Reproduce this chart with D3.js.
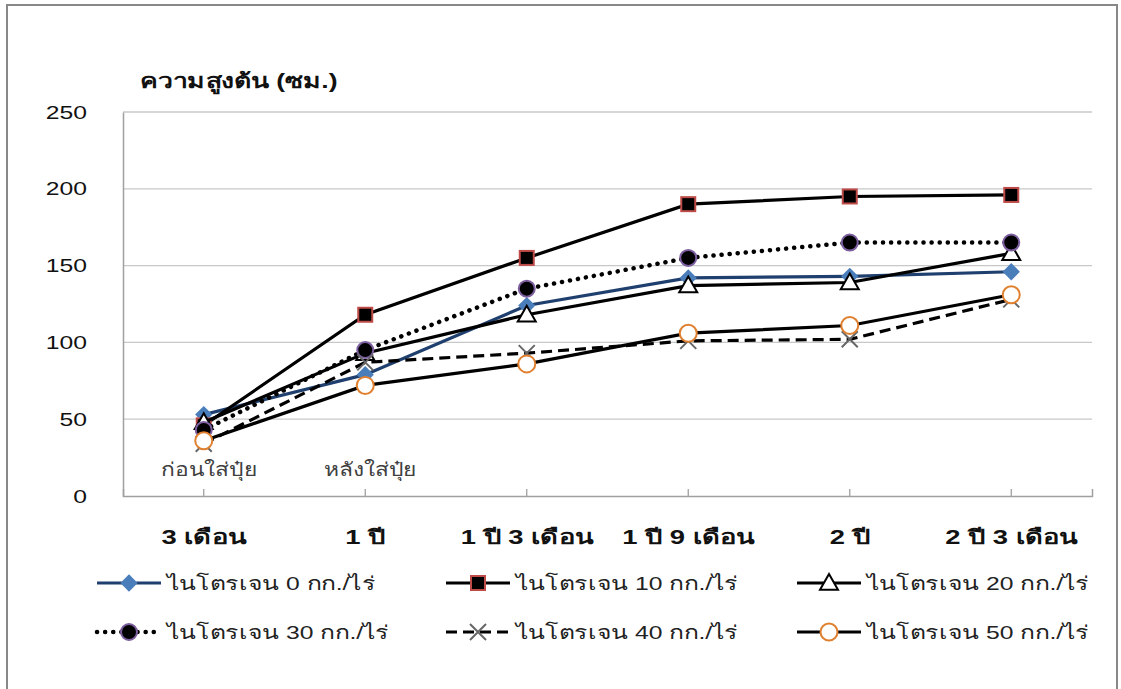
<!DOCTYPE html>
<html>
<head>
<meta charset="utf-8">
<script src="https://cdn.jsdelivr.net/npm/d3@7"></script>
<style>
  body { margin: 0; background: #fff; }
  text { font-family: "Liberation Sans", Arial, "Noto Sans", sans-serif; }
</style>
</head>
<body>
<div id="chart"></div>
<script>
var categories = ["3 เดือน", "1 ปี", "1 ปี 3 เดือน", "1 ปี 9 เดือน", "2 ปี", "2 ปี 3 เดือน"];
var n0 = [53, 79, 124, 142, 143, 146];
var n10 = [46, 118, 155, 190, 195, 196];
var n20 = [48, 93, 118, 137, 139, 158];
var n30 = [43, 95, 135, 155, 165, 165];
var n40 = [34, 87, 93, 101, 102, 128];
var n50 = [36, 72, 86, 106, 111, 131];
var yTicks = [0, 50, 100, 150, 200, 250];
var seriesNames = ["ไนโตรเจน 0 กก./ไร่", "ไนโตรเจน 10 กก./ไร่", "ไนโตรเจน 20 กก./ไร่",
  "ไนโตรเจน 30 กก./ไร่", "ไนโตรเจน 40 กก./ไร่", "ไนโตรเจน 50 กก./ไร่"];
var notes = ["ก่อนใส่ปุ๋ย", "หลังใส่ปุ๋ย"];

var width = 1121, height = 689;

var series = [
  { name: seriesNames[0], values: n0, line: "#1f3f6e", dash: null, marker: "diamond", fill: "#4a7ebb", stroke: "#4a7ebb" },
  { name: seriesNames[1], values: n10, line: "#000", dash: null, marker: "square", fill: "#000", stroke: "#be4b48" },
  { name: seriesNames[2], values: n20, line: "#000", dash: null, marker: "triangle", fill: "#fff", stroke: "#000" },
  { name: seriesNames[3], values: n30, line: "#000", dash: "0.1,8", marker: "circle", fill: "#000", stroke: "#7d5fa0" },
  { name: seriesNames[4], values: n40, line: "#000", dash: "11,6", marker: "x", fill: "none", stroke: "#666" },
  { name: seriesNames[5], values: n50, line: "#000", dash: null, marker: "ocircle", fill: "#fff", stroke: "#e0802f" }
];

var svg = d3.select("#chart").append("svg")
  .attr("width", width).attr("height", height);

// outer frame
svg.append("rect")
  .attr("x", 7).attr("y", 5).attr("width", 1110).attr("height", 690)
  .attr("fill", "#fff").attr("stroke", "#888").attr("stroke-width", 2);

var x = d3.scaleBand().domain(categories).range([123, 1092]).padding(0);
var y = d3.scaleLinear().domain([0, 250]).range([496, 112]);
function cx(i) { return x(categories[i]) + x.bandwidth() / 2; }

// text in the original is wider than it is tall
function stretched(sel, px, py, sx) {
  return sel.attr("x", 0).attr("y", 0)
    .attr("transform", "translate(" + px + "," + py + ") scale(" + sx + ",1)");
}

// gridlines
svg.append("g").selectAll("line").data(yTicks.slice(1)).enter().append("line")
  .attr("x1", 123).attr("x2", 1092)
  .attr("y1", d => y(d)).attr("y2", d => y(d))
  .attr("stroke", "#c8c8c8").attr("stroke-width", 1.3);

// axes
var yAxis = svg.append("g").attr("transform", "translate(123,0)")
  .call(d3.axisLeft(y).tickValues(yTicks).tickSize(0).tickPadding(0));
yAxis.select(".domain").attr("stroke", "#a0a0a0").attr("stroke-width", 1.5);
yAxis.selectAll("text").attr("font-size", 19).attr("fill", "#111")
  .attr("x", 0).attr("transform", "translate(-36,0) scale(1.3,1)");

var xAxis = svg.append("g").attr("transform", "translate(0,496)")
  .call(d3.axisBottom(x).tickSize(-7).tickPadding(34));
xAxis.select(".domain").attr("stroke", "#a0a0a0").attr("stroke-width", 1.5);
xAxis.selectAll(".tick line").attr("stroke", "#a0a0a0").attr("stroke-width", 1.3);
xAxis.selectAll("text").attr("font-size", 20).attr("font-weight", "bold").attr("fill", "#111")
  .attr("transform", "scale(1.37,1)");

// y title
stretched(svg.append("text"), 140, 88, 1.33)
  .attr("font-size", 20).attr("font-weight", "bold").attr("fill", "#111")
  .text("ความสูงต้น (ซม.)");

// markers
function drawMarker(g, s, px, py) {
  if (s.marker == "diamond") {
    g.append("path").attr("d", d3.symbol().type(d3.symbolDiamond2).size(190)())
      .attr("transform", "translate(" + px + "," + py + ")").attr("fill", s.fill);
  } else if (s.marker == "square") {
    var a = 14;
    g.append("rect").attr("x", px - a / 2).attr("y", py - a / 2).attr("width", a).attr("height", a)
      .attr("fill", s.fill).attr("stroke", s.stroke).attr("stroke-width", 2);
  } else if (s.marker == "triangle") {
    var t = 9;
    g.append("path").attr("d", "M" + px + "," + (py - t) + "L" + (px + t) + "," + (py + t * 0.75) + "L" + (px - t) + "," + (py + t * 0.75) + "Z")
      .attr("fill", s.fill).attr("stroke", s.stroke).attr("stroke-width", 2);
  } else if (s.marker == "circle") {
    g.append("circle").attr("cx", px).attr("cy", py).attr("r", 8)
      .attr("fill", s.fill).attr("stroke", s.stroke).attr("stroke-width", 2);
  } else if (s.marker == "ocircle") {
    g.append("circle").attr("cx", px).attr("cy", py).attr("r", 8.5)
      .attr("fill", s.fill).attr("stroke", s.stroke).attr("stroke-width", 2);
  } else if (s.marker == "x") {
    var h = 8;
    g.append("path").attr("d", "M" + (px - h) + "," + (py - h) + "L" + (px + h) + "," + (py + h) + "M" + (px + h) + "," + (py - h) + "L" + (px - h) + "," + (py + h))
      .attr("stroke", s.stroke).attr("stroke-width", 2).attr("fill", "none");
  }
}

var line = d3.line().x((d, i) => cx(i)).y(d => y(d));

series.forEach(function (s) {
  var g = svg.append("g");
  g.append("path").datum(s.values).attr("d", line)
    .attr("fill", "none").attr("stroke", s.line)
    .attr("stroke-linecap", s.dash == "0.1,8" ? "round" : "butt")
    .attr("stroke-width", s.dash == "0.1,8" ? 4.5 : 3.2)
    .attr("stroke-dasharray", s.dash);
  s.values.forEach(function (v, i) { drawMarker(g, s, cx(i), y(v)); });
});

// notes under first points
notes.forEach(function (t, i) {
  stretched(svg.append("text"), cx(i) + 5, 476, 1.2)
    .attr("text-anchor", "middle").attr("font-size", 19).attr("fill", "#404040")
    .text(t);
});

// legend
var legX = [97, 446, 797];
var legY = [583, 632];
var leg = svg.append("g");
series.forEach(function (s, i) {
  var lx = legX[i % 3], ly = legY[Math.floor(i / 3)];
  leg.append("line").attr("x1", lx).attr("x2", lx + 64).attr("y1", ly).attr("y2", ly)
    .attr("stroke", s.line).attr("stroke-width", s.dash == "0.1,8" ? 4.5 : 3.2)
    .attr("stroke-linecap", s.dash == "0.1,8" ? "round" : "butt")
    .attr("stroke-dasharray", s.dash);
  drawMarker(leg, s, lx + 32, ly);
  stretched(leg.append("text"), lx + 70, ly, 1.3).attr("dy", "0.35em")
    .attr("font-size", 19).attr("fill", "#222").text(s.name);
});
</script>
</body>
</html>
